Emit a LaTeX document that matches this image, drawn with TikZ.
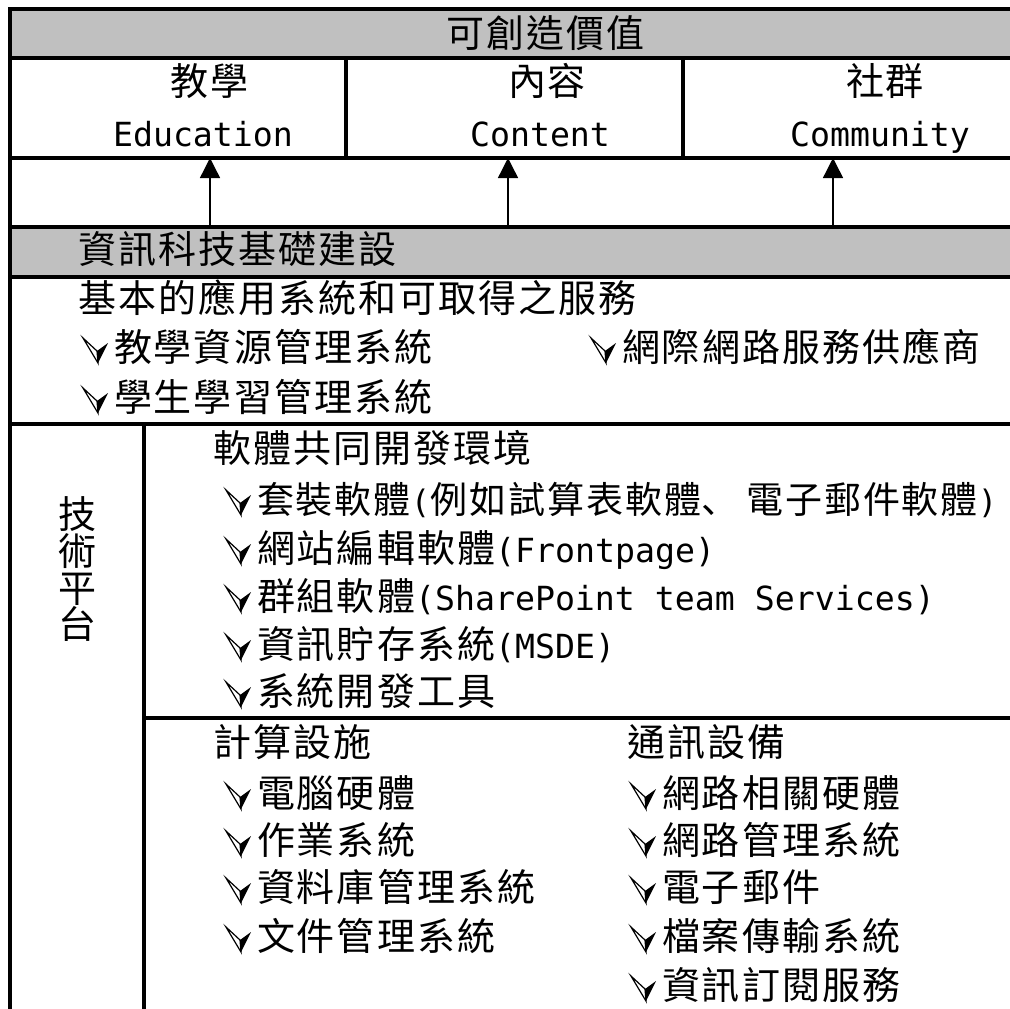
\documentclass[tikz,border=0pt]{standalone}
\usepackage{fontspec}
\setmainfont{Noto Sans CJK TC}[LetterSpace=5.3]
\newfontfamily\latinmono{DejaVu Sans Mono}[Scale=0.874]
\newfontfamily\jpmark{Noto Sans CJK JP}[LetterSpace=5.3]
\usetikzlibrary{arrows.meta}

\definecolor{BandGray}{HTML}{c0c0c0}
\tikzstyle{frame-line}=[line width=1.6pt]
\tikzstyle{cell-text}=[inner sep=0pt, font=\fontsize{19}{24}\selectfont, text height=17pt, text depth=3pt]
\tikzstyle{item-text}=[cell-text, anchor=west]
\tikzstyle{value-arrow}=[line width=0.7pt, -{Triangle[length=10pt, width=10pt]}]

% bullet: half outlined, half filled arrowhead
\newcommand{\chk}{\tikz[x=1pt, y=1pt, baseline=0pt, line width=0.6pt]{\draw[fill=white] (0,11.5) -- (7,5) -- (7.5,-1) -- cycle; \fill (7,5) -- (12.5,9) -- (7.5,-1) -- cycle;}\hspace{3pt}}

\begin{document}
\begin{tikzpicture}[x=0.5pt, y=-0.5pt]
      \useasboundingbox (0,0) rectangle (1010,1008);
      \clip (0,0) rectangle (1010,1008);

      \fill[BandGray] (10,9) rectangle (1090,58);
      \fill[BandGray] (10,227) rectangle (1090,277);

      % value row
      \node (value) at (546,33) [cell-text] {可創造價值};
      \node (value-1) at (210,81)  [cell-text] {教學};
      \node (value-1en) at (203,132) [cell-text] {\latinmono Education};
      \node (value-2) at (547,81)  [cell-text] {內容};
      \node (value-2en) at (540,132) [cell-text] {\latinmono Content};
      \node (value-3) at (885,81)  [cell-text] {社群};
      \node (value-3en) at (880,132) [cell-text] {\latinmono Community};

      \coordinate (valuein-1) at (210,158);
      \coordinate (valuein-2) at (508,158);
      \coordinate (valuein-3) at (833,158);
      \coordinate (infra-1) at (210,227);
      \coordinate (infra-2) at (508,227);
      \coordinate (infra-3) at (833,227);
      \foreach \i in {1,2,3}
        \draw[value-arrow] (infra-\i) -- (valuein-\i);

      % infrastructure
      \node (infra) at (78,249) [item-text] {資訊科技基礎建設};
      \node (basic) at (78,298) [item-text] {基本的應用系統和可取得之服務};
      \node (basic-1) at (82,347)  [item-text] {\chk 教學資源管理系統};
      \node (basic-2) at (82,397)  [item-text] {\chk 學生學習管理系統};
      \node (basic-3) at (590,347) [item-text] {\chk 網際網路服務供應商};

      % platform
      \foreach \c [count=\i] in {技,術,平,台}
        \node (tech-\i) at (77,{478+36.7*\i}) [cell-text] {\c};

      \node (soft) at (213,448) [item-text] {軟體共同開發環境};
      \node (soft-1) at (225,499) [item-text, font=\fontsize{18.5}{24}\selectfont] {\chk 套裝軟體{\latinmono (}例如試算表軟體{\jpmark 、}\hspace{4pt}電子郵件軟體{\latinmono )}};
      \node (soft-2) at (225,548) [item-text] {\chk 網站編輯軟體{\latinmono (Frontpage)}};
      \node (soft-3) at (225,596) [item-text] {\chk 群組軟體{\latinmono (SharePoint team Services)}};
      \node (soft-4) at (225,644) [item-text] {\chk 資訊貯存系統{\latinmono (MSDE)}};
      \node (soft-5) at (225,691) [item-text] {\chk 系統開發工具};

      \node (comp) at (213,742) [item-text] {計算設施};
      \node (comp-1) at (225,793) [item-text] {\chk 電腦硬體};
      \node (comp-2) at (225,840) [item-text] {\chk 作業系統};
      \node (comp-3) at (225,887) [item-text] {\chk 資料庫管理系統};
      \node (comp-4) at (225,936) [item-text] {\chk 文件管理系統};

      \node (comm) at (627,742) [item-text] {通訊設備};
      \node (comm-1) at (630,793) [item-text] {\chk 網路相關硬體};
      \node (comm-2) at (630,840) [item-text] {\chk 網路管理系統};
      \node (comm-3) at (630,887) [item-text] {\chk 電子郵件};
      \node (comm-4) at (630,936) [item-text] {\chk 檔案傳輸系統};
      \node (comm-5) at (630,985) [item-text] {\chk 資訊訂閱服務};

      % frame
      \draw[frame-line] (1090,9) -- (10,9) -- (10,1030);
      \foreach \y in {58,158,227,277,424}
        \draw[frame-line] (10,\y) -- (1090,\y);
      \draw[frame-line] (346,58) -- (346,158);
      \draw[frame-line] (683,58) -- (683,158);
      \draw[frame-line] (144,424) -- (144,1030);
      \draw[frame-line] (144,718) -- (1090,718);
\end{tikzpicture}
\end{document}
